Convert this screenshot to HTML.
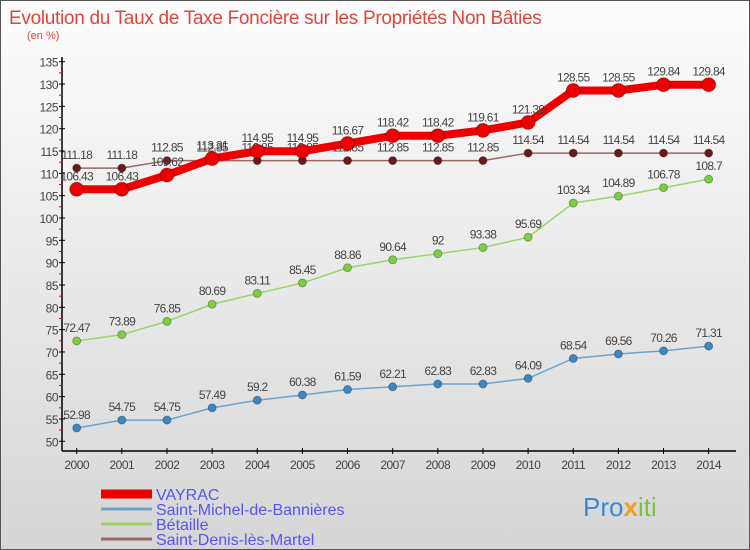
<!DOCTYPE html>
<html><head><meta charset="utf-8"><style>
body{margin:0;}
#c{width:750px;height:550px;position:relative;overflow:hidden;font-family:"Liberation Sans",sans-serif;background:linear-gradient(#fdfdfd,#d6d6d6);box-sizing:border-box;border:1px solid #555;}
svg text{font-family:"Liberation Sans",sans-serif;}
</style></head><body>
<div id="c">
<svg id="s" width="750" height="550">
<text x="8" y="23" font-size="19" fill="#e0443c" letter-spacing="-0.3">Evolution du Taux de Taxe Foncière sur les Propriétés Non Bâties</text>
<text x="26" y="38" font-size="11" fill="#e0443c">(en %)</text>
<g id="axes"></g><g id="series"></g><g id="legend"></g>
<text x="582" y="515" font-size="26" fill="#3a8ad0">Pro<tspan fill="#f0a020" font-weight="bold">x</tspan><tspan fill="#7cc040">iti</tspan></text>
</svg>
</div>
<script>
const years=[2000,2001,2002,2003,2004,2005,2006,2007,2008,2009,2010,2011,2012,2013,2014];
const yTicks=[50,55,60,65,70,75,80,85,90,95,100,105,110,115,120,125,130,135];
const vayrac=[106.43,106.43,109.62,113.31,114.95,114.95,116.67,118.42,118.42,119.61,121.39,128.55,128.55,129.84,129.84];
const stMichel=[52.98,54.75,54.75,57.49,59.2,60.38,61.59,62.21,62.83,62.83,64.09,68.54,69.56,70.26,71.31];
const betaille=[72.47,73.89,76.85,80.69,83.11,85.45,88.86,90.64,92,93.38,95.69,103.34,104.89,106.78,108.7];
const stDenis=[111.18,111.18,112.85,112.85,112.85,112.85,112.85,112.85,112.85,112.85,114.54,114.54,114.54,114.54,114.54];
const seriesNames=["VAYRAC","Saint-Michel-de-Bannières","Bétaille","Saint-Denis-lès-Martel"];
const NS="http://www.w3.org/2000/svg";
const X=i=>75.7+i*45.14;
const Y=v=>440.3-(v-50)*4.466;
function mk(t,a,p){const e=document.createElementNS(NS,t);for(const k in a)e.setAttribute(k,a[k]);p.appendChild(e);return e;}
const ax=document.getElementById('axes');
mk('line',{x1:61,y1:56,x2:61,y2:450,stroke:'#000','stroke-width':1.5},ax);
mk('line',{x1:61,y1:450,x2:735,y2:450,stroke:'#000','stroke-width':1.5},ax);
yTicks.forEach(v=>{
 const t=mk('text',{x:57,y:Y(v)+5,'font-size':12,fill:'#444','text-anchor':'end','letter-spacing':'-0.5'},ax);
 
 
 t.textContent=v;
 mk('line',{x1:58,y1:Y(v),x2:64,y2:Y(v),stroke:'#000'},ax);
 if(v<135) mk('line',{x1:58,y1:Y(v+2.5),x2:61,y2:Y(v+2.5),stroke:'#e00'},ax);
});
years.forEach((y,i)=>{
 mk('line',{x1:X(i),y1:447,x2:X(i),y2:453,stroke:'#000'},ax);
 const t=mk('text',{x:X(i),y:468,'font-size':12,fill:'#444','text-anchor':'middle','letter-spacing':'-0.5'},ax);
 
 
 t.textContent=y;
});
const sg=document.getElementById('series');
function draw(vals,name,color,dot,lw,r){
 const g=mk('g',{},sg);
 
 
 mk('polyline',{points:vals.map((v,i)=>X(i)+','+Y(v)).join(' '),fill:'none',stroke:color,'stroke-width':lw},g);
 vals.forEach((v,i)=>{
  const c=mk('circle',{cx:X(i),cy:Y(v),r:r,fill:dot,stroke:'rgba(0,0,0,0.3)'},g);
  
  
  const t=mk('text',{x:X(i),y:Y(v)-9,'font-size':12,fill:'#444','text-anchor':'middle','letter-spacing':'-0.7'},g);
  
  
  t.textContent=v;
 });
}
draw(stDenis,'saint-denis','#9b6666','#6b1a1a',1.5,4);
draw(betaille,'betaille','#9ad46a','#7cd040',1.5,4);
draw(stMichel,'saint-michel','#6aa4cc','#3a88c4',1.5,4);
draw(vayrac,'vayrac','#ee0000','#ee0000',8,7);
const lg=document.getElementById('legend');
const lc=['#ee0000','#6aa4cc','#9ad46a','#9b6666'],lw=[9,3,3,3];
seriesNames.forEach((n,i)=>{
 const y=493+i*15;
 const g=mk('g',{},lg);
 
 
 mk('line',{x1:100,y1:y,x2:151,y2:y,stroke:lc[i],'stroke-width':lw[i]},g);
 const t=mk('text',{x:155,y:y+6,'font-size':16,fill:'#5555ee'},g);
 t.textContent=n;
});
</script>
</body></html>
